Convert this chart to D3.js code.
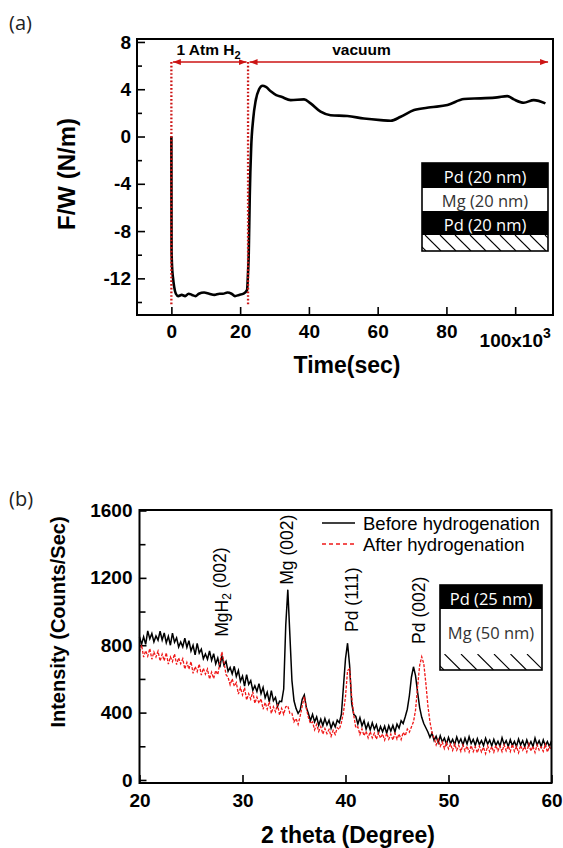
<!DOCTYPE html>
<html>
<head>
<meta charset="utf-8">
<script src="https://cdn.jsdelivr.net/npm/d3@7"></script>
<style>
  body { margin: 0; background: #fff; }
  svg { display: block; }
  .tick text { font-family: "Liberation Sans", Arial, sans-serif; font-weight: bold; font-size: 19px; fill: #000; }
  .tick line { stroke: #000; stroke-width: 1.6; }
</style>
</head>
<body>
<svg id="fig" width="563" height="848"></svg>
<script>
// two panels: (a) surface stress vs time, (b) XRD before / after hydrogenation
const SANS = '"Liberation Sans", Arial, sans-serif';
const CAL = '"Open Sans", "Noto Sans", sans-serif';
const RED = "#cc1414";

// ---- (a) data: time in 10^3 s, F/W in N/m ----
const timeA = [0, 0.02, 0.05, 0.2, 0.45, 0.8, 1.3, 2, 3, 4, 5, 6, 7, 8, 9.5, 11, 12.5, 14, 15, 16.3, 17.5, 18.5,
  19.7, 21, 22, 22.3, 22.5, 22.8, 23.2, 23.8, 24.5, 25.5, 26.5, 27.5, 29, 30.5, 32, 34.7, 38.6, 40.5, 43.4, 46.3,
  51.2, 56, 60.9, 63.8, 66.7, 70.6, 75.4, 80.3, 85.1, 90, 94.8, 97.7, 99.6, 102.5, 105.4, 108.8];
const forceA = [0, -4, -9.6, -11, -11.9, -12.7, -13.3, -13.5, -13.4, -13.5, -13.3, -13.4, -13.5, -13.3, -13.2, -13.3,
  -13.4, -13.3, -13.3, -13.2, -13.3, -13.5, -13.4, -13.3, -13.0, -11.5, -10, -5, -1, 1.5, 3.0, 4.0, 4.3, 4.2, 3.8,
  3.5, 3.36, 3.08, 3.14, 2.8, 2.1, 1.8, 1.73, 1.53, 1.39, 1.33, 1.67, 2.24, 2.47, 2.66, 3.17, 3.23, 3.31, 3.42,
  3.14, 2.86, 3.08, 2.8];
const timeTicksA = [0, 20, 40, 60, 80, 100];
const forceTicksA = [-12, -8, -4, 0, 4, 8];
const forceMinorA = [-14, -10, -6, -2, 2, 6];
const switchTimes = [0, 22.3];
const phaseFrom = [0, 22.3];
const phaseTo = [22.3, 110];
const phaseLabelT = [10.8, 55.3];
const arrowLevel = 6.3;
const layersA = ["Pd (20 nm)", "Mg (20 nm)", "Pd (20 nm)"];

// ---- (b) data: intensity on a 0.2 deg grid from 20 to 60 ----
const thetaStart = 20, thetaStep = 0.2;
const beforeB = [
  850,805,850,805,885,838,870,820,855,830,
  883,831,873,815,853,800,872,818,844,790,
  820,791,842,788,827,766,800,743,811,754,
  777,720,748,717,766,710,750,689,724,669,
  740,682,704,645,668,630,675,615,650,586,
  617,558,625,568,590,532,560,526,572,513,
  550,488,521,464,531,470,490,436,468,465,
  540,920,1130,860,590,470,425,395,415,480,
  505,430,395,352,390,345,375,325,361,323,
  365,327,355,307,343,315,355,340,390,555,
  720,812,680,455,390,377,332,370,322,352,
  302,337,297,339,301,328,280,318,286,319,
  277,322,290,324,285,332,308,352,335,375,
  420,500,610,672,620,520,430,372,335,310,
  285,253,278,235,260,221,263,226,249,213,
  252,216,241,210,255,219,244,208,248,213,
  257,217,241,206,245,210,234,204,248,213,
  237,202,241,206,230,200,250,210,234,199,
  239,204,229,199,243,208,233,198,238,203,
  228,198,248,208,233,198,238,203,228,198,
  233];
const afterB = [
  760,802,730,768,735,780,717,760,730,765,
  706,747,708,755,688,731,703,749,685,725,
  690,720,659,698,658,703,633,673,643,688,
  623,663,628,659,599,640,602,650,625,695,
  760,700,625,610,565,600,557,578,510,548,
  505,548,475,512,480,523,455,492,455,482,
  420,460,420,465,395,435,405,450,385,425,
  390,435,440,395,395,345,365,330,380,440,
  495,425,370,335,345,298,330,288,317,273,
  305,275,300,259,295,270,310,300,340,400,
  495,650,660,495,385,310,315,270,303,263,
  289,250,287,250,278,242,280,249,273,237,
  277,242,272,237,277,242,273,240,283,262,
  302,284,315,345,415,555,680,732,690,575,
  440,345,280,250,208,240,200,225,186,222,
  185,213,176,214,177,205,169,208,172,201,
  165,204,168,197,162,201,166,195,156,202,
  168,199,165,206,172,202,168,208,173,203,
  168,212,170,199,161,205,176,198,166,214,
  171,200,163,209,177,196,170,211,166,199,
  178];
const thetaTicksB = [20, 30, 40, 50, 60];
const intTicksB = [0, 400, 800, 1200, 1600];
const intMinorB = [200, 600, 1000, 1400];
const peakNames = ["MgH|2| (002)", "Mg (002)", "Pd (111)", "Pd (002)"];
const peakTheta = [27.96, 34.34, 40.6, 47.1];
const peakLabelAt = [850, 1159, 879, 808];
const seriesNames = ["Before hydrogenation", "After hydrogenation"];
const layersB = ["Pd (25 nm)", "Mg (50 nm)"];

const svg = d3.select("#fig");
const defs = svg.append("defs");
defs.append("marker").attr("id", "arr")
  .attr("viewBox", "0 0 8 6").attr("refX", 8).attr("refY", 3)
  .attr("markerWidth", 8).attr("markerHeight", 6).attr("markerUnits", "userSpaceOnUse")
  .attr("orient", "auto-start-reverse")
  .append("path").attr("d", "M0,0L8,3L0,6Z").attr("fill", RED);

function frame(box) {
  svg.append("rect").attr("x", box.l).attr("y", box.t)
    .attr("width", box.r - box.l).attr("height", box.b - box.t)
    .attr("fill", "none").attr("stroke", "#000").attr("stroke-width", 2);
}

// layered sample sketch with a hatched substrate
function stack(x0, y0, w, rows, id) {
  const g = svg.append("g");
  let y = y0;
  rows.forEach(r => {
    g.append("rect").attr("x", x0).attr("y", y).attr("width", w).attr("height", r.h)
      .attr("fill", r.dark ? "#000" : "#fff");
    if (r.text) {
      g.append("text").attr("x", x0 + w / 2).attr("y", y + r.h / 2 + 1)
        .attr("text-anchor", "middle").attr("dominant-baseline", "central")
        .attr("font-family", CAL).attr("font-size", 16.5)
        .attr("fill", r.dark ? "#fff" : "#333").text(r.text);
    }
    if (r.hatch) {
      defs.append("clipPath").attr("id", id).append("rect")
        .attr("x", x0).attr("y", y).attr("width", w).attr("height", r.h);
      g.append("g").attr("clip-path", `url(#${id})`)
        .selectAll("line").data(d3.range(0, w + r.h, r.step)).join("line")
        .attr("x1", d => x0 + d - r.h + 4).attr("y1", y)
        .attr("x2", d => x0 + d + 4).attr("y2", y + r.h)
        .attr("stroke", "#000").attr("stroke-width", 1.1);
    }
    y += r.h;
  });
  g.append("rect").attr("x", x0).attr("y", y0).attr("width", w).attr("height", y - y0)
    .attr("fill", "none").attr("stroke", "#000").attr("stroke-width", 1.6);
}

/* ---------------- (a) ---------------- */
const A = { l: 137, r: 553, t: 39, b: 315 };
const xA = d3.scaleLinear().domain([-10, 111]).range([A.l, A.r]);
const yA = d3.scaleLinear().domain([-15.1, 8.25]).range([A.b, A.t]);

svg.append("g").attr("transform", `translate(0,${A.b})`)
  .call(d3.axisBottom(xA).tickValues(timeTicksA).tickSizeInner(-8).tickSizeOuter(0).tickPadding(10)
    .tickFormat(d => d === 100 ? "" : d))
  .call(g => g.select(".domain").remove());
svg.append("g").attr("transform", `translate(${A.l},0)`)
  .call(d3.axisLeft(yA).tickValues(forceTicksA).tickSizeInner(-8).tickSizeOuter(0).tickPadding(6)
    .tickFormat(d => d))
  .call(g => g.select(".domain").remove());
svg.append("g").attr("transform", `translate(${A.l},0)`)
  .call(d3.axisLeft(yA).tickValues(forceMinorA).tickSizeInner(-5).tickSizeOuter(0).tickFormat(""))
  .call(g => g.select(".domain").remove());

const lbl100 = svg.append("text").attr("x", xA(100)).attr("y", A.b + 32)
  .attr("text-anchor", "middle").attr("font-family", SANS).attr("font-weight", "bold").attr("font-size", 19);
lbl100.append("tspan").text("100x10");
lbl100.append("tspan").attr("dy", -9).attr("font-size", 14).text("3");

svg.append("path").datum(timeA.map((t, i) => [t, forceA[i]]))
  .attr("fill", "none").attr("stroke", "#000").attr("stroke-width", 2.6).attr("stroke-linejoin", "round")
  .attr("d", d3.line().curve(d3.curveMonotoneX).x(d => xA(d[0])).y(d => yA(d[1])));

svg.selectAll("line.switch").data(switchTimes).join("line").attr("class", "switch")
  .attr("x1", d => xA(d)).attr("x2", d => xA(d))
  .attr("y1", yA(arrowLevel)).attr("y2", yA(-14.3))
  .attr("stroke", RED).attr("stroke-width", 2.3).attr("stroke-dasharray", "1.7,2");

svg.selectAll("line.phase").data(phaseFrom).join("line").attr("class", "phase")
  .attr("x1", (d, i) => xA(d) + 1.5).attr("x2", (d, i) => xA(phaseTo[i]) - 1.5)
  .attr("y1", yA(arrowLevel)).attr("y2", yA(arrowLevel))
  .attr("stroke", RED).attr("stroke-width", 1.6)
  .attr("marker-start", "url(#arr)").attr("marker-end", "url(#arr)");

const ph1 = svg.append("text").attr("x", xA(phaseLabelT[0])).attr("y", 55)
  .attr("text-anchor", "middle").attr("font-family", SANS).attr("font-weight", "bold").attr("font-size", 15.5);
ph1.append("tspan").text("1 Atm H");
ph1.append("tspan").attr("dy", 4).attr("font-size", 11).text("2");
svg.append("text").attr("x", xA(phaseLabelT[1])).attr("y", 55)
  .attr("text-anchor", "middle").attr("font-family", SANS).attr("font-weight", "bold").attr("font-size", 15.5)
  .text("vacuum");

frame(A);
stack(A.r - 131, 163, 126, [
  { h: 25, dark: true, text: layersA[0] },
  { h: 23, dark: false, text: layersA[1] },
  { h: 24, dark: true, text: layersA[2] },
  { h: 16, hatch: true, step: 15 }
], "hatchA");

svg.append("text").attr("transform", "translate(75,174) rotate(-90)")
  .attr("text-anchor", "middle").attr("font-family", SANS).attr("font-weight", "bold").attr("font-size", 24)
  .text("F/W (N/m)");
svg.append("text").attr("x", 347).attr("y", 373)
  .attr("text-anchor", "middle").attr("font-family", SANS).attr("font-weight", "bold").attr("font-size", 23)
  .text("Time(sec)");
svg.append("text").attr("x", 9).attr("y", 30).attr("font-family", CAL).attr("font-size", 20).attr("fill", "#222").text("(a)");

/* ---------------- (b) ---------------- */
const B = { l: 139.5, r: 551.5, t: 510, b: 783 };
const xB = d3.scaleLinear().domain([20, 60]).range([B.l, B.r]);
const yB = d3.scaleLinear().domain([-18, 1603]).range([B.b, B.t]);

svg.append("g").attr("transform", `translate(0,${B.b})`)
  .call(d3.axisBottom(xB).tickValues(thetaTicksB).tickSizeInner(-8).tickSizeOuter(0).tickPadding(11))
  .call(g => g.select(".domain").remove());
svg.append("g").attr("transform", `translate(${B.l},0)`)
  .call(d3.axisLeft(yB).tickValues(intTicksB).tickSizeInner(-7).tickSizeOuter(0).tickPadding(7)
    .tickFormat(d => d))
  .call(g => g.select(".domain").remove());
svg.append("g").attr("transform", `translate(${B.l},0)`)
  .call(d3.axisLeft(yB).tickValues(intMinorB).tickSizeInner(-6).tickSizeOuter(0).tickFormat(""))
  .call(g => g.select(".domain").remove());

const xrdLine = d3.line().x((d, i) => xB(thetaStart + i * thetaStep)).y(d => yB(d));
svg.append("path").datum(beforeB).attr("fill", "none").attr("stroke", "#000")
  .attr("stroke-width", 1.5).attr("d", xrdLine);
svg.append("path").datum(afterB).attr("fill", "none").attr("stroke", "#f01818")
  .attr("stroke-width", 1.3).attr("stroke-dasharray", "3,1.5").attr("d", xrdLine);

// rotated peak labels
svg.selectAll("text.peak").data(peakNames).join("text").attr("class", "peak")
  .attr("transform", (d, i) => `translate(${xB(peakTheta[i])},${yB(peakLabelAt[i])}) rotate(-90)`)
  .attr("dy", "0.35em").attr("font-family", SANS).attr("font-size", 17.5)
  .each(function (d) {
    const parts = d.split("|");
    const t = d3.select(this);
    t.append("tspan").text(parts[0]);
    if (parts.length > 1) {
      t.append("tspan").attr("dy", "0.3em").attr("font-size", 12).text(parts[1]);
      t.append("tspan").attr("dy", "-0.3em").text(parts[2]);
    }
  });

// legend
const leg = svg.append("g");
seriesNames.forEach((s, i) => {
  leg.append("line").attr("x1", 322).attr("x2", 355).attr("y1", 523 + i * 21).attr("y2", 523 + i * 21)
    .attr("stroke", i ? "#f01818" : "#000").attr("stroke-width", i ? 1.5 : 1.3)
    .attr("stroke-dasharray", i ? "4,3" : null);
  leg.append("text").attr("x", 363).attr("y", 529.5 + i * 21.5)
    .attr("font-family", SANS).attr("font-size", 18.5).text(s);
});

frame(B);
stack(440, 585, 102, [
  { h: 24, dark: true, text: layersB[0] },
  { h: 45, dark: false, text: layersB[1] },
  { h: 16, hatch: true, step: 16.5 }
], "hatchB");

svg.append("text").attr("transform", "translate(65,622) rotate(-90)")
  .attr("text-anchor", "middle").attr("font-family", SANS).attr("font-weight", "bold").attr("font-size", 20)
  .text("Intensity (Counts/Sec)");
svg.append("text").attr("x", 348).attr("y", 843)
  .attr("text-anchor", "middle").attr("font-family", SANS).attr("font-weight", "bold").attr("font-size", 23)
  .text("2 theta (Degree)");
svg.append("text").attr("x", 9).attr("y", 506).attr("font-family", CAL).attr("font-size", 20).attr("fill", "#222").text("(b)");
</script>
</body>
</html>
